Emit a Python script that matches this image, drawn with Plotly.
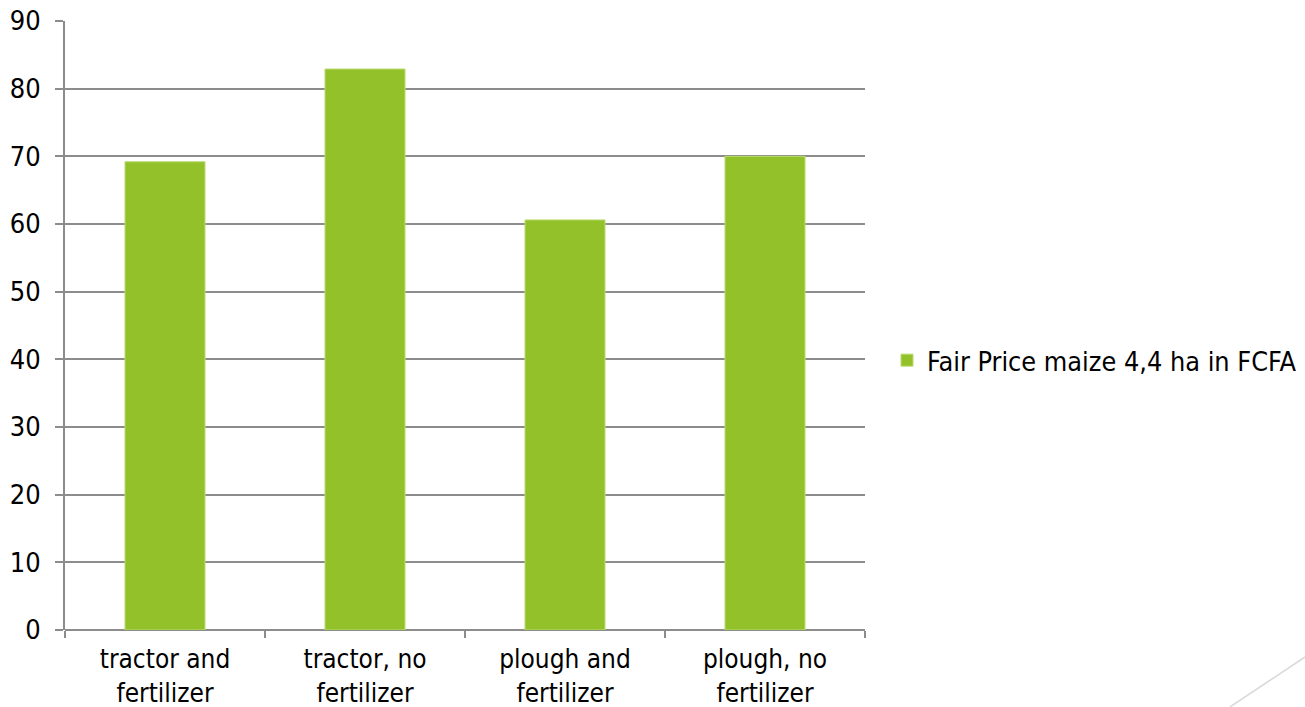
import plotly.graph_objects as go

categories = ["tractor and<br>fertilizer", "tractor, no<br>fertilizer", "plough and<br>fertilizer", "plough, no<br>fertilizer"]
values = [69.2, 82.9, 60.6, 70.0]
series_name = "Fair Price maize 4,4 ha in FCFA"
y_ticks = [0, 10, 20, 30, 40, 50, 60, 70, 80, 90]

FONT = "DejaVu Sans Condensed, DejaVu Sans, sans-serif"
GRID = "#8c8c8c"

fig = go.Figure()
fig.add_trace(go.Bar(
    x=categories, y=values, name=series_name,
    marker=dict(color="#92C12A", line=dict(color="#b9dc6e", width=1)),
    showlegend=True,
))

fig.update_layout(
    width=1305, height=707,
    margin=dict(l=65, r=440, t=21, b=77, autoexpand=False),
    paper_bgcolor="white", plot_bgcolor="white",
    bargap=0.6,
    font=dict(family=FONT, size=27, color="#000000"),
    showlegend=True,
    legend=dict(x=1.0275, y=0.443, yanchor="middle", xanchor="left",
                font=dict(family=FONT, size=26.8, color="#000000"),
                bgcolor="rgba(0,0,0,0)", itemwidth=30),
    xaxis=dict(
        type="category", tickson="boundaries", ticks="outside", ticklen=7,
        tickcolor=GRID, tickwidth=2, showgrid=False, showline=False,
        tickfont=dict(family=FONT, size=26, color="#000000"),
        ticklabelstandoff=11, automargin=False, ticklabeloverflow="allow",
    ),
    yaxis=dict(
        range=[0, 90], tickvals=y_ticks, ticks="outside", ticklen=8,
        tickcolor=GRID, tickwidth=2, showgrid=True, gridcolor=GRID, gridwidth=2,
        showline=True, linecolor=GRID, linewidth=2, zeroline=True,
        zerolinecolor=GRID, zerolinewidth=2,
        tickfont=dict(family=FONT, size=27, color="#000000"),
        ticklabelstandoff=9, automargin=False, ticklabeloverflow="allow",
    ),
    shapes=[dict(type="line", xref="paper", yref="paper",
                 x0=1.45625, y0=-0.1264, x1=1.55, y1=-0.0443,
                 line=dict(color="#d9d9d9", width=1.5))],
)

# remove the page's default 8px body margin so the figure fills the window
fig.write_html("out.html", config={"displayModeBar": False},
               post_script="document.body.style.margin='0';document.body.style.overflow='hidden';")
